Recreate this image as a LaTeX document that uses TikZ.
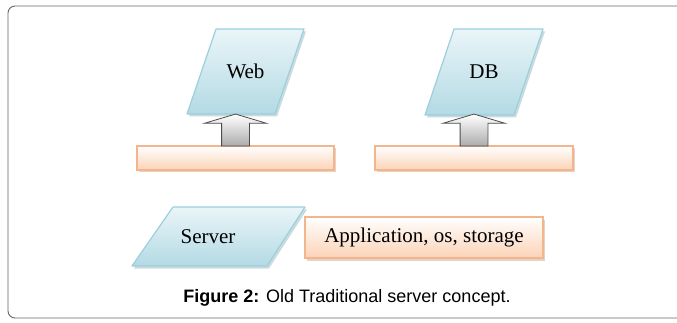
\documentclass[tikz,border=0pt]{standalone}
\usepackage{fontspec}
\setmainfont{Liberation Serif}
\newfontfamily\capfont{Liberation Sans}
\usetikzlibrary{positioning,shapes.arrows,shadows,backgrounds}
\definecolor{skyedge}{HTML}{9CCFDC}
\definecolor{skytop}{HTML}{EAF5F8}
\definecolor{skybot}{HTML}{B3DAE4}
\definecolor{peachedge}{HTML}{F3B58C}
\definecolor{peachbot}{HTML}{FBD3B6}

\begin{document}
\begin{tikzpicture}[
        x=1pt, y=-1pt,
        slot/.style = {
            inner sep=0pt, outer sep=0pt,
            font=\fontsize{21}{24}\selectfont},
        lean/.style = {
            draw=skyedge, line width=1.2pt, line join=round,
            top color=skytop, bottom color=skybot,
            drop shadow={shadow xshift=2pt, shadow yshift=-2.5pt,
                fill=skyedge!70!gray, opacity=.5}},
        slab/.style = {
            draw=peachedge, line width=1.2pt,
            top color=white, bottom color=peachbot,
            inner sep=0pt, outer sep=0pt,
            font=\fontsize{21}{24}\selectfont,
            drop shadow={shadow xshift=2pt, shadow yshift=-2.5pt,
                fill=peachedge!70!gray, opacity=.5}},
        lift/.style = {
            single arrow, shape border rotate=90,
            draw=gray!60!black, line width=.8pt,
            top color=white, bottom color=gray!65,
            minimum height=30pt, minimum width=61pt, inner sep=13.5pt,
            single arrow head extend=17pt, single arrow tip angle=147,
            outer sep=0pt, anchor=tail},
]
        \clip (0,0) rectangle (677,323);
        \useasboundingbox (0,0) rectangle (677,323);
        \draw[rounded corners=7pt, gray!80!black, line width=.9pt] (8,6) rectangle (700,318);
        % upper row
        \node[slot, minimum width=88pt, minimum height=85pt] (web) at (245.5,71.5) {Web};
        \node[slot, minimum width=89pt, minimum height=86pt] (db) at (484,72) {DB};
        \node[slab, minimum width=197pt, minimum height=24pt] (webbase) at (235.5,158) {};
        \node[slab, minimum width=198pt, minimum height=24pt] (dbbase) at (474,158) {};
        \node[lift] (webup) at (webbase.north) {};
        \node[lift] (dbup) at (dbbase.north) {};
        % legend
        \node[slot, minimum width=133pt, minimum height=59pt] (server) at (208,236.5) {Server};
        \node[slab, minimum width=238pt, minimum height=41pt] (stack) at (424,237.5) {Application, os, storage};
        \node[font=\capfont\fontsize{18}{20}\selectfont] (caption) at (347,298)
            {\textbf{Figure 2:} Old Traditional server concept.};
        % slanted boxes behind the texts
        \begin{scope}[on background layer]
            \path[lean] ([xshift=-14.5pt]web.south west) -- ([xshift=-14.5pt]web.south east)
                -- ([xshift=14.5pt]web.north east) -- ([xshift=14.5pt]web.north west) -- cycle;
            \path[lean] ([xshift=-14.5pt]db.south west) -- ([xshift=-14.5pt]db.south east)
                -- ([xshift=14.5pt]db.north east) -- ([xshift=14.5pt]db.north west) -- cycle;
            \path[lean] ([xshift=-9.5pt]server.south west) -- ([xshift=-7.5pt]server.south east)
                -- ([xshift=30.5pt]server.north east) -- ([xshift=31.5pt]server.north west) -- cycle;
        \end{scope}
\end{tikzpicture}
\end{document}
